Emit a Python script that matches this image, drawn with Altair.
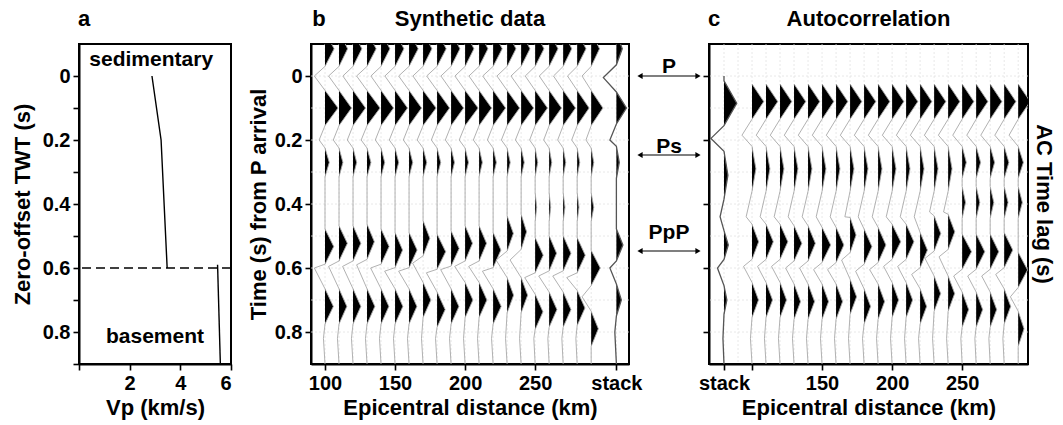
import altair as alt
import pandas as pd

FONT = "Liberation Sans"

# ---------------- panel a : velocity model ----------------
VP_SED = [2.88, 3.24, 3.48]
TWT_SED = [0.0, 0.2, 0.6]
VP_BASE = [5.47, 5.58]
TWT_BASE = [0.59, 0.9]
INTERFACE_TWT = [0.6]
LAYER_NAMES = ["sedimentary", "basement"]
LAYER_NAME_VP = [2.85, 3.0]
LAYER_NAME_TWT = [-0.05, 0.815]
TWT_TICKS = [0.0, 0.1, 0.2, 0.3, 0.4, 0.5, 0.6, 0.7, 0.8, 0.9]
VP_TICKS = [0, 2, 4, 6]

# ---------------- shared time axis ----------------
TIME_TICKS = [0.0, 0.2, 0.4, 0.6, 0.8]
GRID_TIMES = [0.0, 0.1, 0.2, 0.3, 0.4, 0.5, 0.6, 0.7, 0.8]

DIST = [100, 110, 120, 130, 140, 150, 160, 170, 180, 190,
        200, 210, 220, 230, 240, 250, 260, 270, 280, 290]

# ---------------- panel b : synthetic data (picked lobes / troughs) ----------------
SYN_STACK_AT = 308
SYN_TICKS = [100, 150, 200, 250, 308]
SYN_TOP_TIME, SYN_TR0_TIME, SYN_P_TIME, SYN_TR1_TIME, SYN_PS_TIME, SYN_X_TIME, SYN_TR3_TIME = \
    -0.085, 0.0, 0.10, 0.20, 0.27, 0.41, 0.82
SYN_TOP_A = [0.7, 0.66, 0.68, 0.7, 0.68, 0.68, 0.7, 0.68, 0.7, 0.68,
             0.68, 0.68, 0.7, 0.68, 0.68, 0.68, 0.68, 0.66, 0.68, 0.64]
SYN_TR0_A = [-0.82, -0.8, -0.78, -0.8, -0.78, -0.78, -0.8, -0.78, -0.8, -0.78,
             -0.78, -0.78, -0.8, -0.78, -0.78, -0.76, -0.76, -0.74, -0.74, -0.7]
SYN_P_A = [1.0, 0.96, 0.96, 1.0, 0.96, 0.96, 0.96, 1.0, 0.96, 0.96,
           1.0, 0.96, 0.96, 0.96, 0.96, 0.95, 0.95, 0.95, 0.92, 0.9]
SYN_TR1_A = [-0.45, -0.44, -0.44, -0.45, -0.44, -0.44, -0.44, -0.45, -0.44, -0.44,
             -0.45, -0.44, -0.44, -0.44, -0.44, -0.42, -0.42, -0.42, -0.42, -0.4]
SYN_PS_A = [0.33, 0.3, 0.28, 0.3, 0.28, 0.28, 0.28, 0.28, 0.28, 0.26,
            0.26, 0.25, 0.25, 0.24, 0.24, 0.2, 0.2, 0.2, 0.2, 0.2]
SYN_X_A = [0, 0, 0, 0, 0, 0, 0, 0, 0, 0,
           0, 0, 0, 0, 0, 0.12, 0.12, 0.14, 0.14, 0.2]
SYN_PPP_T = [0.533, 0.523, 0.523, 0.518, 0.533, 0.544, 0.544, 0.507, 0.549, 0.539,
             0.523, 0.523, 0.544, 0.492, 0.487, 0.56, 0.554, 0.554, 0.56, 0.60]
SYN_PPP_A = [0.67, 0.64, 0.6, 0.56, 0.62, 0.58, 0.62, 0.52, 0.66, 0.62,
             0.57, 0.57, 0.6, 0.48, 0.42, 0.62, 0.57, 0.6, 0.62, 0.7]
SYN_TR2_T = [0.60, 0.595, 0.595, 0.59, 0.60, 0.61, 0.61, 0.585, 0.615, 0.605,
             0.595, 0.595, 0.61, 0.575, 0.575, 0.63, 0.625, 0.625, 0.63, 0.69]
SYN_TR2_A = [-0.82, -0.8, -0.8, -0.8, -0.8, -0.8, -0.8, -0.8, -0.82, -0.8,
             -0.8, -0.8, -0.82, -0.85, -0.85, -0.8, -0.8, -0.8, -0.8, -0.7]
SYN_LATE_T = [0.72, 0.72, 0.72, 0.72, 0.72, 0.72, 0.72, 0.70, 0.73, 0.72,
              0.70, 0.70, 0.72, 0.685, 0.685, 0.737, 0.73, 0.73, 0.725, 0.79]
SYN_LATE_A = [0.64, 0.6, 0.6, 0.6, 0.6, 0.6, 0.6, 0.6, 0.62, 0.6,
              0.6, 0.6, 0.62, 0.5, 0.5, 0.6, 0.6, 0.6, 0.6, 0.55]
SYN_TR3_A = [-0.12, -0.12, -0.12, -0.12, -0.12, -0.12, -0.12, -0.12, -0.12, -0.12,
             -0.12, -0.12, -0.12, -0.12, -0.12, -0.1, -0.1, -0.1, -0.1, 0]
# stack trace of panel b
SYN_STACK_T = [-0.085, 0.005, 0.10, 0.20, 0.27, 0.528, 0.60, 0.70, 0.80]
SYN_STACK_A = [0.45, -1.0, 0.77, -0.5, 0.22, 0.5, -0.5, 0.38, -0.12]

# ---------------- panel c : autocorrelation ----------------
AC_STACK_AT = 80
AC_GAP_AT = 90
AC_TICKS = [80, 100, 150, 200, 250]
AC_P_TIME, AC_TR1_TIME, AC_X_TIME, AC_TR3_TIME = 0.08, 0.185, 0.395, 0.82
AC_P_A = [0.9, 0.9, 0.9, 0.9, 0.9, 0.9, 0.9, 0.9, 0.9, 0.9,
          0.9, 0.9, 0.9, 0.9, 0.9, 0.9, 0.9, 0.9, 0.9, 0.92]
AC_TR1_A = [-0.77, -0.75, -0.75, -0.75, -0.75, -0.75, -0.75, -0.75, -0.75, -0.75,
            -0.75, -0.75, -0.75, -0.75, -0.75, -0.72, -0.72, -0.72, -0.72, -0.7]
AC_PS_T = [0.29, 0.29, 0.29, 0.29, 0.29, 0.29, 0.29, 0.29, 0.29, 0.29,
           0.29, 0.29, 0.29, 0.29, 0.29, 0.27, 0.27, 0.27, 0.27, 0.27]
AC_PS_A = [0.3, 0.3, 0.3, 0.3, 0.3, 0.3, 0.3, 0.3, 0.3, 0.3,
           0.3, 0.3, 0.3, 0.3, 0.3, 0.32, 0.34, 0.34, 0.36, 0.4]
AC_X_A = [0, 0, 0, 0, 0, 0, 0, 0, 0, 0,
          0, 0, 0, 0, 0, 0.26, 0.28, 0.28, 0.3, 0.32]
AC_PRE_T = [0.44, 0.44, 0.44, 0.44, 0.44, 0.44, 0.44, 0.44, 0.44, 0.44,
            0.44, 0.44, 0.44, 0.425, 0.425, 0.47, 0.47, 0.47, 0.47, 0.5]
AC_PRE_A = [-0.45, -0.45, -0.45, -0.45, -0.45, -0.45, -0.45, -0.4, -0.45, -0.45,
            -0.45, -0.45, -0.45, -0.35, -0.35, 0, 0, 0, 0, 0]
AC_PPP_T = [0.518, 0.518, 0.518, 0.523, 0.523, 0.528, 0.528, 0.497, 0.533, 0.528,
            0.518, 0.518, 0.544, 0.492, 0.487, 0.549, 0.549, 0.549, 0.544, 0.606]
AC_PPP_A = [0.51, 0.56, 0.6, 0.6, 0.56, 0.66, 0.6, 0.46, 0.6, 0.6,
            0.66, 0.6, 0.56, 0.51, 0.51, 0.72, 0.66, 0.66, 0.66, 0.72]
AC_TR2_T = [0.595, 0.595, 0.595, 0.6, 0.6, 0.605, 0.605, 0.575, 0.61, 0.605,
            0.595, 0.595, 0.62, 0.57, 0.565, 0.625, 0.625, 0.625, 0.62, 0.69]
AC_TR2_A = [-0.65, -0.65, -0.65, -0.65, -0.65, -0.65, -0.65, -0.65, -0.65, -0.65,
            -0.65, -0.65, -0.65, -0.7, -0.7, -0.65, -0.65, -0.65, -0.65, -0.6]
AC_LATE_T = [0.70, 0.70, 0.70, 0.705, 0.705, 0.705, 0.705, 0.69, 0.72, 0.705,
             0.70, 0.70, 0.72, 0.68, 0.68, 0.73, 0.73, 0.73, 0.72, 0.79]
AC_LATE_A = [0.5, 0.5, 0.5, 0.5, 0.5, 0.5, 0.5, 0.5, 0.5, 0.5,
             0.5, 0.5, 0.5, 0.5, 0.5, 0.5, 0.5, 0.5, 0.5, 0.45]
AC_TR3_A = [-0.12, -0.12, -0.12, -0.12, -0.12, -0.12, -0.12, -0.12, -0.12, -0.12,
            -0.12, -0.12, -0.12, -0.12, -0.12, -0.1, -0.1, -0.1, -0.1, 0]
AC_STACK_T = [0.085, 0.195, 0.31, 0.44, 0.528, 0.60, 0.70, 0.82]
AC_STACK_A = [0.98, -1.0, 0.3, -0.3, 0.33, -0.5, 0.22, -0.08]
AC_STACK_HW = [0.07, 0, 0.075, 0, 0.045, 0, 0.045, 0]

# phase markers between panels b and c
PHASES = ["P", "Ps", "PpP"]
PHASE_T = [0.0, 0.247, 0.547]
PHASE_LABEL_T = [-0.027, 0.222, 0.49]

# ---------------- drawing styles ----------------
H = 320
W_A, W_B, W_C = 152, 318, 319
HW = 0.055          # half width of a plotted lobe (s)
GAIN = 9.3          # km of x offset for a unit amplitude
TITLE_FS = 22
LABEL_FS = 20


def knots(events, start=None, end=0.9):
    pts = {}
    for t, a, hw in events:
        if a == 0:
            continue
        if a > 0:
            for tt, vv in ((t - hw, 0.0), (t, a), (t + hw, 0.0)):
                pts[round(tt, 4)] = vv
        else:
            pts[round(t, 4)] = a
    if start is not None:
        pts.setdefault(round(start, 4), 0.0)
    pts.setdefault(end, 0.0)
    return sorted(pts.items())


def trace_rows(name, pos, kn, kind):
    return [{"trace": name, "kind": kind, "pos": pos, "t": t, "v": v,
             "xl": pos + v * GAIN, "xf": pos + max(v, 0.0) * GAIN} for t, v in kn]


syn_rows = []
for i, d in enumerate(DIST):
    ev = [(SYN_TOP_TIME, SYN_TOP_A[i], HW), (SYN_TR0_TIME, SYN_TR0_A[i], 0),
          (SYN_P_TIME, SYN_P_A[i], HW), (SYN_TR1_TIME, SYN_TR1_A[i], 0),
          (SYN_PS_TIME, SYN_PS_A[i], 0.045), (SYN_X_TIME, SYN_X_A[i], 0.045),
          (SYN_PPP_T[i], SYN_PPP_A[i], HW), (SYN_TR2_T[i], SYN_TR2_A[i], 0),
          (SYN_LATE_T[i], SYN_LATE_A[i], HW), (SYN_TR3_TIME, SYN_TR3_A[i], 0)]
    syn_rows += trace_rows(f"s{d}", d, knots(ev), "trace")
syn_rows += trace_rows("stack", SYN_STACK_AT,
                       knots([(t, a, 0.05) for t, a in zip(SYN_STACK_T, SYN_STACK_A)]), "stack")
syn_df = pd.DataFrame(syn_rows)

ac_rows = []
for i, d in enumerate(DIST):
    ps_hw = 0.07 if AC_X_A[i] == 0 else 0.05
    ev = [(AC_P_TIME, AC_P_A[i], HW), (AC_TR1_TIME, AC_TR1_A[i], 0),
          (AC_PS_T[i], AC_PS_A[i], ps_hw), (AC_X_TIME, AC_X_A[i], 0.05),
          (AC_PRE_T[i], AC_PRE_A[i], 0),
          (AC_PPP_T[i], AC_PPP_A[i], HW), (AC_TR2_T[i], AC_TR2_A[i], 0),
          (AC_LATE_T[i], AC_LATE_A[i], HW), (AC_TR3_TIME, AC_TR3_A[i], 0)]
    ac_rows += trace_rows(f"a{d}", d, knots(ev), "trace")
ac_rows += trace_rows("stack", AC_STACK_AT,
                      knots(list(zip(AC_STACK_T, AC_STACK_A, AC_STACK_HW)), start=0.0), "stack")
ac_df = pd.DataFrame(ac_rows)

label_expr_time = "datum.value < 0.85 && round(datum.value * 10) % 2 == 0 ? format(datum.value, '.1~f') : ''"


def panel_text(text, x, size):
    return alt.Chart(pd.DataFrame({"s": [text]})).mark_text(
        fontSize=size, fontWeight="bold", font=FONT, align="center", baseline="middle", color="black"
    ).encode(text="s:N", x=alt.value(x), y=alt.value(-25))


# ---------------- panel a ----------------
ax_vp = alt.Axis(values=VP_TICKS, labelExpr="datum.value == 0 ? '' : datum.label",
                 title="Vp (km/s)", grid=False)
ax_twt = alt.Axis(values=TWT_TICKS, labelExpr=label_expr_time,
                  title="Zero-offset TWT (s)", grid=False, titlePadding=8)
sc_vp = alt.Scale(domain=[0, 6], nice=False, zero=False)
sc_t = alt.Scale(domain=[-0.1, 0.9], nice=False, zero=False, reverse=True)

sed_df = pd.DataFrame({"vp": VP_SED, "t": TWT_SED})
base_df = pd.DataFrame({"vp": VP_BASE, "t": TWT_BASE})
sed = alt.Chart(sed_df).mark_line(color="black", strokeWidth=1.4).encode(
    x=alt.X("vp:Q", scale=sc_vp, axis=ax_vp), y=alt.Y("t:Q", scale=sc_t, axis=ax_twt), order="t:Q")
base = alt.Chart(base_df).mark_line(color="black", strokeWidth=1.4).encode(
    x=alt.X("vp:Q", scale=sc_vp, axis=ax_vp), y=alt.Y("t:Q", scale=sc_t, axis=ax_twt), order="t:Q")
iface = alt.Chart(pd.DataFrame({"t": INTERFACE_TWT})).mark_rule(
    color="black", strokeWidth=1.4, strokeDash=[9, 5]).encode(y=alt.Y("t:Q", scale=sc_t, axis=ax_twt))
names = alt.Chart(pd.DataFrame({"vp": LAYER_NAME_VP, "t": LAYER_NAME_TWT, "s": LAYER_NAMES})).mark_text(
    fontSize=21, fontWeight="bold", font=FONT, color="black").encode(
    x=alt.X("vp:Q", scale=sc_vp, axis=ax_vp), y=alt.Y("t:Q", scale=sc_t, axis=ax_twt), text="s:N")
panel_a = alt.layer(sed, base, iface, names, panel_text("a", 5, TITLE_FS)).properties(width=W_A, height=H)


# ---------------- wiggle panel helper ----------------
def wiggle_panel(df, domain, grid_x, x_axis, y_axis, stack_color):
    sc_x = alt.Scale(domain=domain, nice=False, zero=False)
    X = lambda f: alt.X(f, scale=sc_x, axis=x_axis)
    Y = lambda f: alt.Y(f, scale=sc_t, axis=y_axis)
    gx = alt.Chart(pd.DataFrame({"pos": grid_x})).mark_rule(
        color="#e2e2e2", strokeWidth=0.8, strokeDash=[2, 2]).encode(x=X("pos:Q"))
    gy = alt.Chart(pd.DataFrame({"t": GRID_TIMES})).mark_rule(
        color="#e2e2e2", strokeWidth=0.8, strokeDash=[2, 2]).encode(y=Y("t:Q"))
    fill = alt.Chart(df).mark_area(orient="horizontal", clip=True, fill="black",
                                   fillOpacity=1).encode(
        y=Y("t:Q"), x=X("xf:Q"), x2=alt.X2("pos"), detail="trace:N")
    lines = alt.Chart(df[df.kind == "trace"]).mark_line(
        clip=True, color="#a8a8a8", strokeWidth=0.9).encode(
        y=Y("t:Q"), x=X("xl:Q"), detail="trace:N", order="t:Q")
    stack = alt.Chart(df[df.kind == "stack"]).mark_line(
        clip=True, color=stack_color, strokeWidth=1.3).encode(
        y=Y("t:Q"), x=X("xl:Q"), order="t:Q")
    return [gx, gy, fill, lines, stack]


ax_b_x = alt.Axis(values=SYN_TICKS, labelExpr=f"datum.value == {SYN_STACK_AT} ? 'stack' : datum.label",
                  title="Epicentral distance (km)", grid=False)
ax_b_y = alt.Axis(values=TIME_TICKS, labelExpr=label_expr_time, title="Time (s) from P arrival",
                  grid=False, titlePadding=4)
panel_b = alt.layer(
    *wiggle_panel(syn_df, [90, 317], DIST + [SYN_STACK_AT], ax_b_x, ax_b_y, "#555555"),
    panel_text("b", 8, TITLE_FS), panel_text("Synthetic data", W_B / 2, TITLE_FS)
).properties(width=W_B, height=H)

ax_c_x = alt.Axis(values=AC_TICKS,
                  labelExpr=f"datum.value == {AC_STACK_AT} ? 'stack' : (datum.value == 100 ? '' : datum.label)",
                  title="Epicentral distance (km)", grid=False)
ax_c_y = alt.Axis(values=TIME_TICKS, labels=False, title=None, grid=False)

phase_df = pd.DataFrame({"t": PHASE_T, "s": PHASES})
phase_lab_df = pd.DataFrame({"t": PHASE_LABEL_T, "s": PHASES})
Yc = lambda f: alt.Y(f, scale=sc_t, axis=ax_c_y)
arrows = alt.Chart(phase_df).mark_rule(color="black", strokeWidth=1.1).encode(
    y=Yc("t:Q"), x=alt.value(-70), x2=alt.value(-10))
head_l = alt.Chart(phase_df).mark_point(shape="triangle-left", filled=True, size=36, color="black",
                                        opacity=1).encode(y=Yc("t:Q"), x=alt.value(-69))
head_r = alt.Chart(phase_df).mark_point(shape="triangle-right", filled=True, size=36, color="black",
                                        opacity=1).encode(y=Yc("t:Q"), x=alt.value(-11))
phase_txt = alt.Chart(phase_lab_df).mark_text(fontSize=21, fontWeight="bold", font=FONT, color="black").encode(
    y=Yc("t:Q"), x=alt.value(-40), text="s:N")
right_title = alt.Chart(pd.DataFrame({"s": ["AC Time lag (s)"]})).mark_text(
    fontSize=TITLE_FS, fontWeight="bold", font=FONT, angle=90, color="black", baseline="middle").encode(
    text="s:N", x=alt.value(W_C + 16), y=alt.value(H / 2))

panel_c = alt.layer(
    *wiggle_panel(ac_df, [69.3, 297], DIST + [AC_STACK_AT, AC_GAP_AT], ax_c_x, ax_c_y, "#555555"),
    arrows, head_l, head_r, phase_txt, right_title,
    panel_text("c", 5, TITLE_FS), panel_text("Autocorrelation", W_C / 2, TITLE_FS)
).properties(width=W_C, height=H)

chart = alt.hconcat(panel_a, panel_b, panel_c, spacing=80, bounds="flush").properties(
    padding={"left": 10, "top": 7, "right": 5, "bottom": 2}
).configure_view(stroke="black", strokeWidth=2).configure_axis(
    labelFont=FONT, titleFont=FONT, labelFontSize=LABEL_FS, titleFontSize=TITLE_FS,
    labelFontWeight="bold", titleFontWeight="bold", labelColor="black", titleColor="black",
    domainColor="black", domainWidth=2, tickColor="black", tickWidth=1.6, tickSize=6,
    labelPadding=3, titlePadding=4
).configure_text(font=FONT)

chart.save("out.html", embed_options={"renderer": "svg", "actions": False})
